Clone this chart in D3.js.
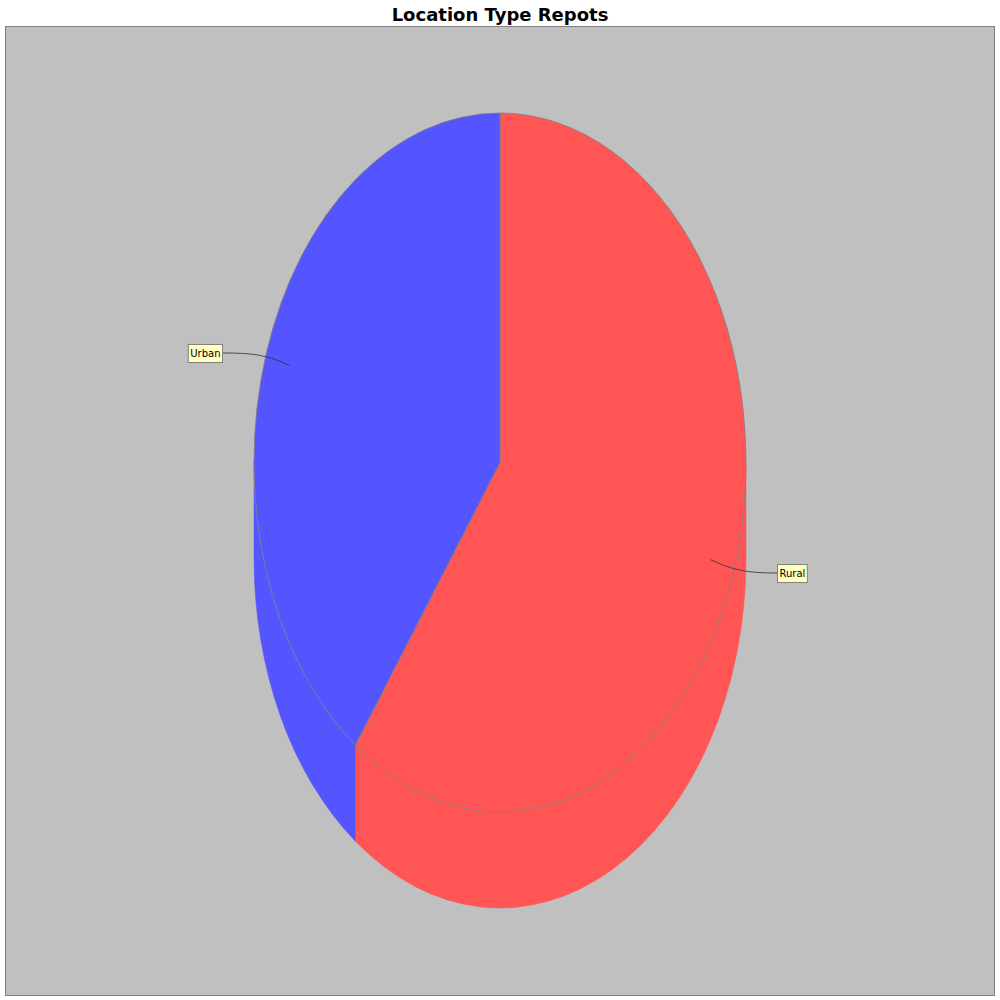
<!DOCTYPE html>
<html><head><meta charset="utf-8">
<script src="https://cdn.jsdelivr.net/npm/d3@7"></script>
<style>body{margin:0;background:#fff}</style></head>
<body><svg id="c" width="1000" height="1000"></svg>
<script>
const title = "Location Type Repots";
const categories = ["Rural", "Urban"];
const values = [60, 40];
const colors = ["#FF5555", "#5555FF"];

const W = 1000, H = 1000;
const svg = d3.select("#c");
const plot = {x: 5.5, y: 26.5, w: 989, h: 969};
svg.append("rect").attr("x", plot.x).attr("y", plot.y).attr("width", plot.w).attr("height", plot.h)
  .attr("fill", "#C0C0C0").attr("stroke", "#808080").attr("stroke-width", 1);

svg.append("text").attr("x", W / 2).attr("y", 21).attr("text-anchor", "middle")
  .attr("font-family", "DejaVu Sans, sans-serif").attr("font-weight", "bold").attr("font-size", 18)
  .attr("fill", "#000").text(title);

const cx = 500, cy = 462.5, rx = 246, ry = 349.5, depth = 96;
const pie = d3.pie().sort(null).value(d => d)(values);
const toScreen = a => a - Math.PI / 2;
const pt = (t, dy = 0, sx = 1, sy = 1) => [cx + rx * sx * Math.cos(t), cy + ry * sy * Math.sin(t) + dy];

// side walls
const gSide = svg.append("g");
pie.forEach((p, i) => {
  const t1 = Math.max(toScreen(p.startAngle), 0);
  const t2 = Math.min(toScreen(p.endAngle), Math.PI);
  if (t2 <= t1) return;
  const a = pt(t1), b = pt(t2), c = pt(t2, depth), d = pt(t1, depth);
  const large = (t2 - t1) > Math.PI ? 1 : 0;
  const path = `M${a}A${rx},${ry} 0 ${large} 1 ${b}L${c}A${rx},${ry} 0 ${large} 0 ${d}Z`;
  gSide.append("path").attr("d", path).attr("fill", colors[i]).attr("stroke", colors[i]).attr("stroke-width", 0.5);
});
// slice boundary edges on the side
pie.forEach((p, i) => {
  const t = toScreen(p.endAngle);
  if (t > 0 && t < Math.PI) {
    const a = pt(t), b = pt(t, depth);
    gSide.append("line").attr("x1", a[0]).attr("y1", a[1]).attr("x2", b[0]).attr("y2", b[1])
      .attr("stroke", "#808080").attr("stroke-width", 0.6);
  }
});

// top faces
const arc = d3.arc().innerRadius(0).outerRadius(1);
const gTop = svg.append("g").attr("transform", `translate(${cx},${cy}) scale(${rx},${ry})`);
gTop.selectAll("path").data(pie).join("path")
  .attr("d", arc).attr("fill", (d, i) => colors[i])
  .attr("stroke", "#808080").attr("stroke-width", 0.8).attr("vector-effect", "non-scaling-stroke");

// labels
const gLab = svg.append("g");
pie.forEach((p, i) => {
  const mid = toScreen((p.startAngle + p.endAngle) / 2);
  const anchor = pt(mid, 0, 0.9, 0.9);
  const elbow = pt(mid, 0, 1.0, 1.0);
  const left = Math.cos(mid) < 0;
  const ly = cy + 356 * Math.sin(mid) + 0.5;
  const tx = gLab.append("text").attr("font-family", "DejaVu Sans, sans-serif").attr("font-size", 10)
    .attr("fill", "#000").text(categories[i]);
  const tw = tx.node().getComputedTextLength();
  const bw = tw + 4, bh = 18;
  const bx = left ? 222 - bw : 777;
  const edgeX = left ? bx + bw : bx;
  const ctrl2 = [left ? edgeX + 30 : edgeX - 30, ly];
  gLab.insert("path", "text")
    .attr("d", `M${anchor}C${elbow} ${ctrl2} ${edgeX},${ly}`)
    .attr("fill", "none").attr("stroke", "#303030").attr("stroke-width", 0.8);
  gLab.append("rect").attr("x", bx + 0.5).attr("y", ly - bh / 2 + 0.5).attr("width", bw).attr("height", bh)
    .attr("fill", "#FFFFC0").attr("stroke", "#808080").attr("stroke-width", 1);
  tx.raise().attr("x", bx + 0.5 + bw / 2).attr("y", ly + 4).attr("text-anchor", "middle");
});
</script></body></html>
